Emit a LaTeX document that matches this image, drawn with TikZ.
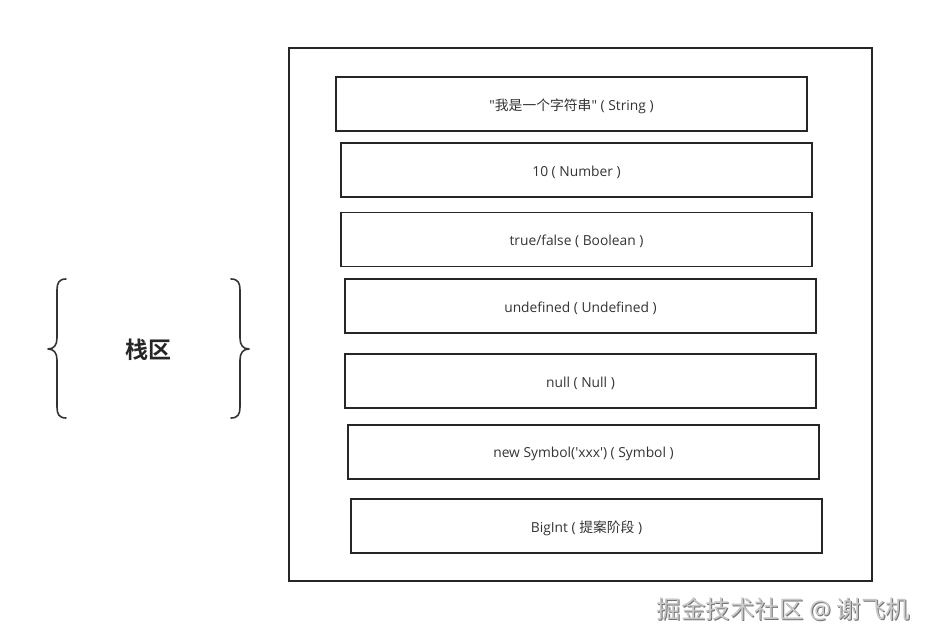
\documentclass[tikz,border=0pt]{standalone}
\usepackage{fontspec}
\setmainfont{Open Sans}
\newfontfamily\lat{Open Sans}
\newfontfamily\cjk{Noto Sans CJK SC}
\newfontfamily\cjkbold{Noto Sans CJK SC Bold}
\newcommand{\dn}[1]{\raisebox{-2pt}[\height][\depth]{#1}}
\begin{document}
\begin{tikzpicture}[x=1pt,y=-1pt,
  cell/.style={draw=black!85,line width=1.8pt,minimum width=471pt,minimum height=54pt,inner sep=0pt,
    font=\fontsize{13.8}{16}\selectfont\lat,text=black!80},
  brace/.style={draw=black!80,line width=1.6pt,line cap=round,line join=round}]
\useasboundingbox (0,0) rectangle (934,644);
\node[draw=black!85,line width=1.8pt,minimum width=583pt,minimum height=533pt,inner sep=0pt] (outer) at (580.5,314.5) {};
\node[cell] (s1) at (571.5,104) {\dn{"{\cjk 我是一个字符串}" ( String )}};
\node[cell] (s2) at (576.5,170) {\dn{10 ( Number )}};
\node[cell] (s3) at (576.5,239.5) {\dn{true/false ( Boolean )}};
\node[cell] (s4) at (580.5,306) {\dn{undefined ( Undefined )}};
\node[cell] (s5) at (580.5,381) {\dn{null ( Null )}};
\node[cell] (s6) at (583.5,452) {\dn{new Symbol('xxx') ( Symbol )}};
\node[cell] (s7) at (586.5,526) {\dn{BigInt ( {\cjk 提案阶段} )}};
% braces
\draw[brace] (66,279) .. controls (59,279) and (57,283) .. (57,290) -- (57,338)
  .. controls (57,345) and (54,349) .. (48,349) .. controls (54,349) and (57,353) .. (57,360)
  -- (57,407) .. controls (57,414) and (59,418) .. (66,418);
\draw[brace] (231,279) .. controls (238,279) and (240,283) .. (240,290) -- (240,338)
  .. controls (240,345) and (243,349) .. (249,349) .. controls (243,349) and (240,353) .. (240,360)
  -- (240,407) .. controls (240,414) and (238,418) .. (231,418);
\node[font=\fontsize{23}{26}\selectfont\cjkbold,text=black!85] (lbl) at (148,350) {栈区};
% watermark
\node[font=\fontsize{24.5}{27}\selectfont\cjk,text=black!55] (wm0) at (784.5,610.5) {掘金技术社区 {\lat @} 谢飞机};
\node[font=\fontsize{24.5}{27}\selectfont\cjk,text=black!22] (wm) at (783.5,609.5) {掘金技术社区 {\lat @} 谢飞机};
\end{tikzpicture}
\end{document}
